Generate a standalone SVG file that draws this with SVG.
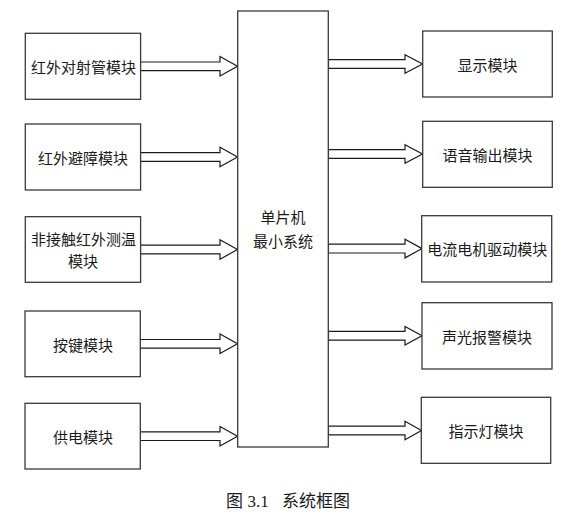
<svg xmlns="http://www.w3.org/2000/svg" width="561" height="517" viewBox="0 0 561 517">
<style>
.box{fill:#fff;stroke:#3a3a3a;stroke-width:1.3}
.arr{fill:#fff;stroke:#1a1a1a;stroke-width:1.2;stroke-linejoin:miter}
.t{font-family:"Noto Sans CJK SC","Noto Sans",sans-serif;font-size:15px;fill:#1a1a1a;text-anchor:middle;dominant-baseline:central}
.cap{font-family:"Noto Sans CJK SC",sans-serif;font-size:17px;fill:#1a1a1a}
.num{font-family:"Liberation Serif",serif;font-size:17px;fill:#1a1a1a}
</style>
<rect width="561" height="517" fill="#fff"/>
<g id="connectors">
<polygon class="arr" points="140,62 220,62 220,56.5 237.5,66.3 220,76 220,70.6 140,70.6"/>
<polygon class="arr" points="140,152.7 220,152.7 220,147.2 237.5,157 220,166.7 220,161.3 140,161.3"/>
<polygon class="arr" points="140,245.2 220,245.2 220,239.7 237.5,249.5 220,259.2 220,253.8 140,253.8"/>
<polygon class="arr" points="140,339.5 220,339.5 220,334 237.5,343.8 220,353.5 220,348.1 140,348.1"/>
<polygon class="arr" points="140,431.9 220,431.9 220,426.4 237.5,436.2 220,445.9 220,440.5 140,440.5"/>
<polygon class="arr" points="328.5,59.6 405,59.6 405,54.7 422.5,64 405,73.3 405,68.4 328.5,68.4"/>
<polygon class="arr" points="328.5,149.6 405,149.6 405,144.7 422.5,154 405,163.3 405,158.4 328.5,158.4"/>
<polygon class="arr" points="328.5,244.2 405,244.2 405,239.3 422,248.6 405,257.9 405,253 328.5,253"/>
<polygon class="arr" points="328.5,331.4 405,331.4 405,326.5 422,335.8 405,345.1 405,340.2 328.5,340.2"/>
<polygon class="arr" points="328.5,426.1 405,426.1 405,421.2 421.5,430.5 405,439.8 405,434.9 328.5,434.9"/>
</g>
<g id="mcu">
<rect class="box" x="237.7" y="11" width="90.6" height="436"/>
<text class="t" x="283" y="216.5">单片机</text>
<text class="t" x="283" y="240">最小系统</text>
</g>
<g id="n1"><rect class="box" x="25.3" y="33.3" width="115.3" height="66"/><text class="t" x="83.5" y="66.5">红外对射管模块</text></g>
<g id="n2"><rect class="box" x="25.3" y="124" width="115.3" height="66"/><text class="t" x="83" y="157">红外避障模块</text></g>
<g id="n3"><rect class="box" x="25.3" y="216.7" width="115.3" height="65.6"/><text class="t" x="83.5" y="238">非接触红外测温</text><text class="t" x="83" y="260">模块</text></g>
<g id="n4"><rect class="box" x="25" y="311" width="115.3" height="65.7"/><text class="t" x="83" y="344">按键模块</text></g>
<g id="n5"><rect class="box" x="25" y="403.3" width="115.3" height="65.7"/><text class="t" x="83" y="436">供电模块</text></g>
<g id="r1"><rect class="box" x="422.7" y="31" width="129.6" height="66"/><text class="t" x="487.5" y="64">显示模块</text></g>
<g id="r2"><rect class="box" x="422.7" y="121.3" width="129.6" height="66"/><text class="t" x="487.5" y="154">语音输出模块</text></g>
<g id="r3"><rect class="box" x="421.7" y="215.7" width="130" height="66.3"/><text class="t" x="487.3" y="248.5">电流电机驱动模块</text></g>
<g id="r4"><rect class="box" x="422" y="302.7" width="130" height="66.3"/><text class="t" x="487" y="336">声光报警模块</text></g>
<g id="r5"><rect class="box" x="421.3" y="397.3" width="129.4" height="66"/><text class="t" x="486" y="430.5">指示灯模块</text></g>
<g id="caption">
<text class="cap" x="226" y="507">图</text>
<text class="num" x="247.5" y="507">3.1</text>
<text class="cap" x="282" y="507" font-size="18">系统框图</text>
</g>
</svg>
